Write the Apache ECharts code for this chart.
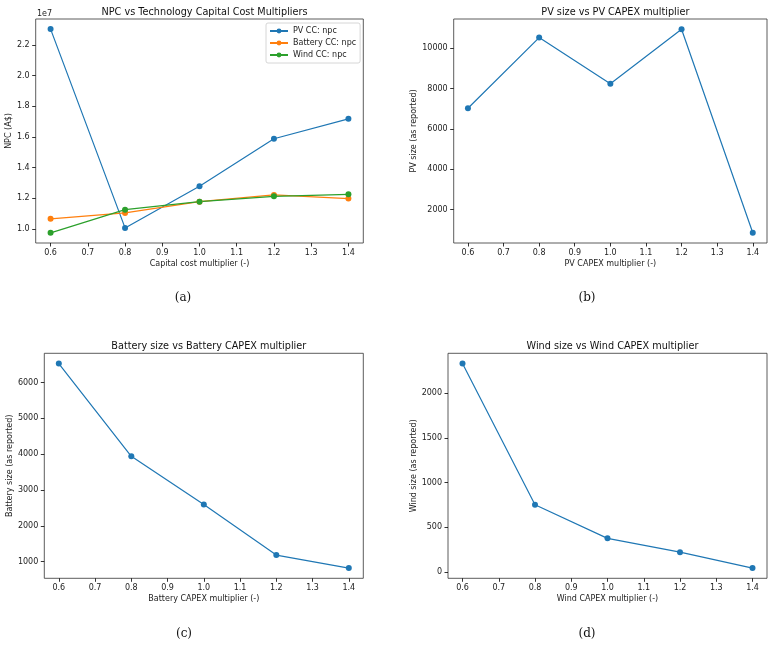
<!DOCTYPE html>
<html>
<head>
<meta charset="utf-8">
<script src="https://cdn.jsdelivr.net/npm/echarts@6/dist/echarts.min.js"></script>
<style>html,body{margin:0;padding:0;background:#fff}#c{width:774px;height:648px}</style>
</head>
<body>
<div id="c"></div>
<script>
// ---- data ----
const multipliers = [0.6, 0.8, 1.0, 1.2, 1.4];
const npcPV = [2.302e7, 1.006e7, 1.277e7, 1.587e7, 1.717e7];
const npcBattery = [1.065e7, 1.104e7, 1.177e7, 1.221e7, 1.197e7];
const npcWind = [0.974e7, 1.125e7, 1.177e7, 1.212e7, 1.225e7];
const pvSize = [7017, 10523, 8237, 10938, 844];
const batterySize = [6531, 3941, 2592, 1184, 821];
const windSize = [2329, 753, 377, 223, 45];
const xTicks = [0.6, 0.7, 0.8, 0.9, 1.0, 1.1, 1.2, 1.3, 1.4];
const npcTicks = [1.0e7, 1.2e7, 1.4e7, 1.6e7, 1.8e7, 2.0e7, 2.2e7];
const pvTicks = [2000, 4000, 6000, 8000, 10000];
const batteryTicks = [1000, 2000, 3000, 4000, 5000, 6000];
const windTicks = [0, 500, 1000, 1500, 2000];

const BLUE = '#1f77b4', ORANGE = '#ff7f0e', GREEN = '#2ca02c';
const FONT = 'DejaVu Sans';
const FS = 8;
const pairs = (xs, ys) => xs.map((x, i) => [x, ys[i]]);

const grids = [
  {left: 35.7, top: 19, width: 327.6, height: 224},
  {left: 453.7, top: 19, width: 313.3, height: 224},
  {left: 44.3, top: 353.3, width: 319, height: 225},
  {left: 448, top: 353.3, width: 319, height: 225}
];
const xNames = ['Capital cost multiplier (-)', 'PV CAPEX multiplier (-)', 'Battery CAPEX multiplier (-)', 'Wind CAPEX multiplier (-)'];
const yNames = ['NPC (A$)', 'PV size (as reported)', 'Battery size (as reported)', 'Wind size (as reported)'];
const yNameGaps = [21, 36, 30, 30];
const yRanges = [[0.9076e7, 2.368e7], [339, 11443], [535, 6816], [-69, 2443]];
const yTickSets = [npcTicks, pvTicks, batteryTicks, windTicks];
const yFormat = [v => (v / 1e7).toFixed(1), v => String(v), v => String(v), v => String(v)];
const titles = ['NPC vs Technology Capital Cost Multipliers', 'PV size vs PV CAPEX multiplier', 'Battery size vs Battery CAPEX multiplier', 'Wind size vs Wind CAPEX multiplier'];

const axisCommon = {
  axisLine: {show: false, onZero: false},
  splitLine: {show: false},
  axisTick: {show: true, inside: false, length: 3.5, lineStyle: {color: '#000', width: 0.8}},
  axisLabel: {color: '#222', fontFamily: FONT, fontSize: FS, margin: 6},
  nameTextStyle: {color: '#222', fontFamily: FONT, fontSize: FS}
};

const xAxis = grids.map((g, i) => ({
  ...axisCommon,
  type: 'value', gridIndex: i, min: 0.56, max: 1.44,
  name: xNames[i], nameLocation: 'middle', nameGap: 17,
  axisTick: {...axisCommon.axisTick, customValues: xTicks},
  axisLabel: {...axisCommon.axisLabel, customValues: xTicks, formatter: v => v.toFixed(1)}
}));
const yAxis = grids.map((g, i) => ({
  ...axisCommon,
  type: 'value', gridIndex: i, min: yRanges[i][0], max: yRanges[i][1],
  name: yNames[i], nameLocation: 'middle', nameGap: yNameGaps[i],
  axisTick: {...axisCommon.axisTick, customValues: yTickSets[i]},
  axisLabel: {...axisCommon.axisLabel, customValues: yTickSets[i], formatter: yFormat[i]}
}));

const lineSeries = (name, data, color, idx) => ({
  name, type: 'line', xAxisIndex: idx, yAxisIndex: idx,
  data, color, symbol: 'circle', symbolSize: 6, showSymbol: true,
  lineStyle: {width: 1.2, color}, itemStyle: {color},
  emphasis: {disabled: true}, animation: false
});

const series = [
  lineSeries('PV CC: npc', pairs(multipliers, npcPV), BLUE, 0),
  lineSeries('Battery CC: npc', pairs(multipliers, npcBattery), ORANGE, 0),
  lineSeries('Wind CC: npc', pairs(multipliers, npcWind), GREEN, 0),
  lineSeries('PV size', pairs(multipliers, pvSize), BLUE, 1),
  lineSeries('Battery size', pairs(multipliers, batterySize), BLUE, 2),
  lineSeries('Wind size', pairs(multipliers, windSize), BLUE, 3)
];

const titleTops = [2, 2, 336.5, 336.5];
const title = grids.map((g, i) => ({
  text: titles[i], left: g.left + g.width / 2, top: titleTops[i], textAlign: 'center',
  textStyle: {fontFamily: FONT, fontSize: 9.7, fontWeight: 'normal', color: '#111'}
}));

const captions = [['(a)', 183, 298], ['(b)', 587, 298], ['(c)', 184, 634], ['(d)', 587, 634]];
const graphic = captions.map(([t, x, y]) => ({
  type: 'text', x, y,
  style: {text: t, fill: '#111', font: '12px "DejaVu Serif"', textAlign: 'center', textVerticalAlign: 'middle'}
}));
graphic.push({type: 'text', x: 37, y: 13.5, style: {text: '1e7', fill: '#222', font: FS + 'px "DejaVu Sans"', textAlign: 'left', textVerticalAlign: 'middle'}});

const chart = echarts.init(document.getElementById('c'), null, {renderer: 'canvas'});
chart.setOption({
  animation: false,
  backgroundColor: '#fff',
  title,
  grid: grids.map(g => ({...g, show: true, borderColor: '#333', borderWidth: 0.8, containLabel: false})),
  xAxis, yAxis, series, graphic,
  legend: {
    data: ['PV CC: npc', 'Battery CC: npc', 'Wind CC: npc'],
    orient: 'vertical', left: 266, top: 23,
    itemWidth: 18, itemHeight: 6, itemGap: 4,
    padding: [4, 4, 4, 3],
    borderColor: '#ccc', borderWidth: 0.8, borderRadius: 2,
    backgroundColor: 'rgba(255,255,255,0.8)',
    textStyle: {fontFamily: FONT, fontSize: FS, color: '#222'},
    selectedMode: false
  }
});
</script>
</body>
</html>
